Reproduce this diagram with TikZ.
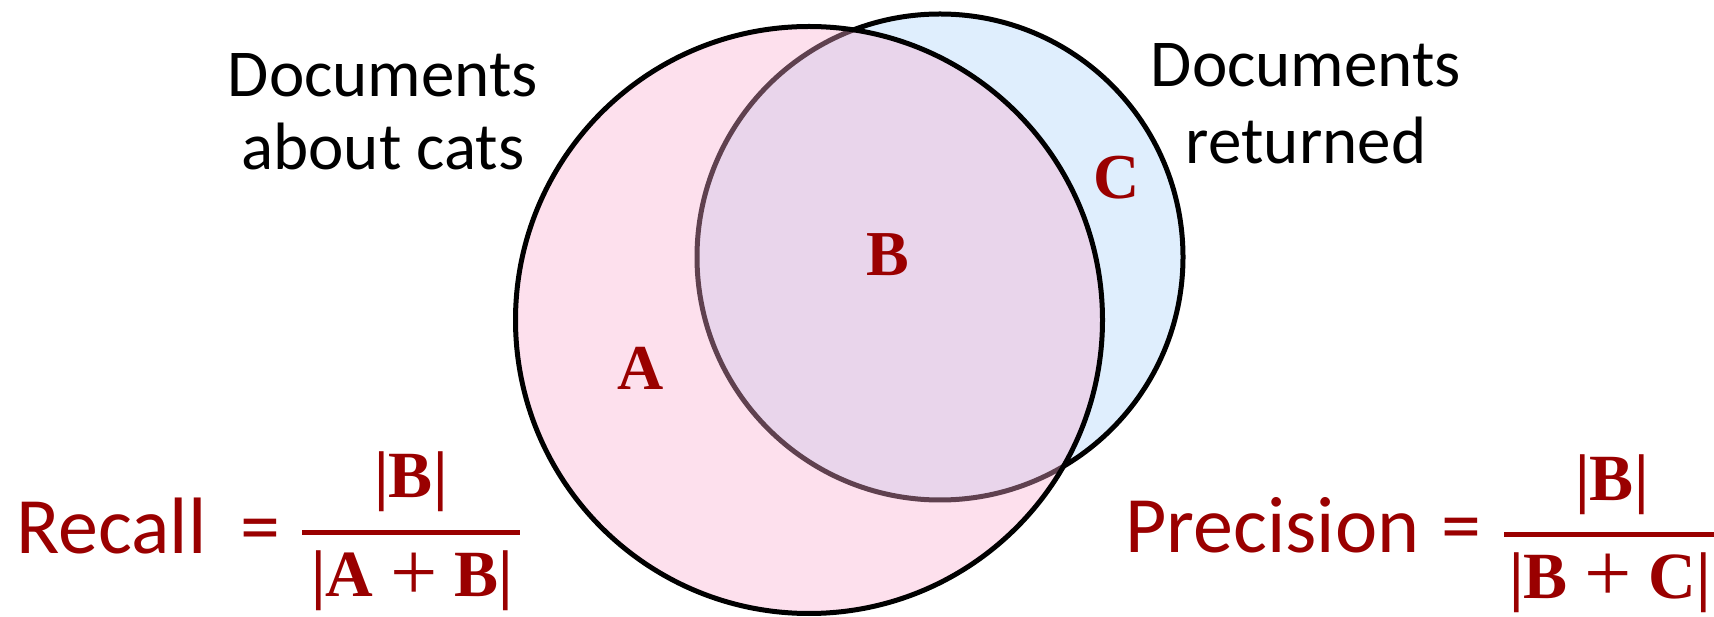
\documentclass[tikz,border=0pt]{standalone}
\usepackage{fontspec}
\setmainfont{Carlito}
\newfontfamily\setfont{Liberation Serif}
\newcommand\plussign{{\mdseries\fontsize{42}{42}\selectfont\raisebox{-1.5pt}{+}}}

\begin{document}
\begin{tikzpicture}[x=0.5pt,y=0.5pt]
\definecolor{color0}{HTML}{DFEEFD}
\definecolor{color1}{HTML}{FAADD0}
\definecolor{color2}{HTML}{9A0000}
\tikzset{
  setlabel/.style={color2,font=\fontsize{32}{36}\setfont\bfseries,inner sep=0pt},
  titlelabel/.style={align=center,font=\fontsize{33.5}{36.5}\selectfont,inner sep=0pt,anchor=north},
  measure/.style={color2,font=\fontsize{40}{46}\selectfont,inner sep=0pt,anchor=base west},
  fracpart/.style={color2,font=\fontsize{33}{36}\setfont\bfseries,inner sep=0pt,anchor=base},
  fracbar/.style={color2,line width=2.7pt}
}
\useasboundingbox (0,0) rectangle (1714,616);
% the two sets
\draw[fill=color0,line width=2.5pt] (940,359) circle (243);
\draw[fill=color1,fill opacity=0.38,line width=2.5pt] (809,296) circle (293.5);
\node[setlabel] (seta) at (641,248) {A};
\node[setlabel] (setb) at (888,361) {B};
\node[setlabel] (setc) at (1117,438) {C};
% titles
\node[titlelabel] (cats) at (383,563) {Documents\\about cats};
\node[titlelabel,font=\fontsize{33.5}{38.5}\selectfont] (returned) at (1306,573) {Documents\\returned};
% recall
\node[measure] (recall) at (16,62) {Recall\hspace{0.2em} =};
\node[fracpart] (recnum) at (411,118) {|B|};
\node[fracpart] (recden) at (412,19) {|A \plussign{} B|};
\draw[fracbar] (302,83.5) -- (520,83.5);
% precision
\node[measure] (precision) at (1125,63) {Precision\hspace{0.05em} =};
\node[fracpart] (precnum) at (1612,115) {|B|};
\node[fracpart] (precden) at (1610,18) {|B \plussign{} C|};
\draw[fracbar] (1504,81.5) -- (1714,81.5);
\end{tikzpicture}
\end{document}
